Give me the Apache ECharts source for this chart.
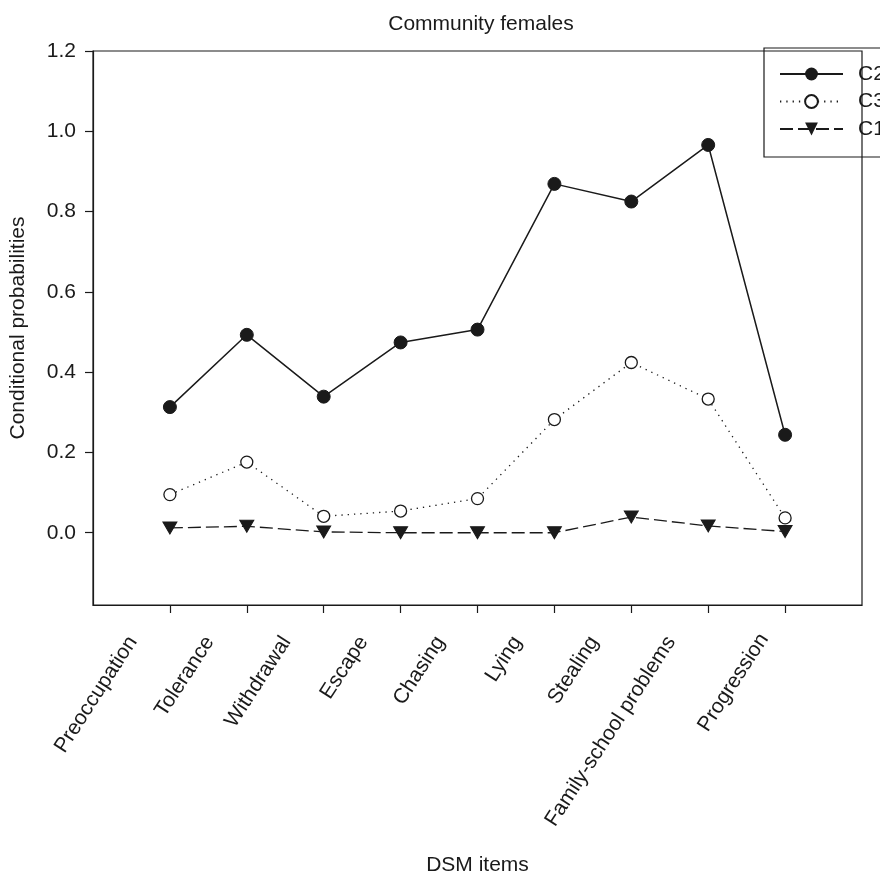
<!DOCTYPE html>
<html>
<head>
<meta charset="utf-8">
<script src="https://cdn.jsdelivr.net/npm/echarts@6/dist/echarts.min.js"></script>
<style>html,body{margin:0;padding:0;background:#fff;}#c{width:880px;height:873px;}</style>
</head>
<body>
<div id="c"></div>
<script>
var categories = ['Preoccupation','Tolerance','Withdrawal','Escape','Chasing','Lying','Stealing','Family-school problems','Progression'];
var c2Values = [0.313, 0.493, 0.339, 0.474, 0.506, 0.869, 0.825, 0.966, 0.244];
var c3Values = [0.095, 0.176, 0.041, 0.054, 0.085, 0.282, 0.424, 0.333, 0.037];
var c1Values = [0.012, 0.016, 0.002, 0.0, 0.0, 0.0, 0.039, 0.017, 0.003];
var yTicks = [0, 0.2, 0.4, 0.6, 0.8, 1.0, 1.2];
// label style key per category (layout only): 'p' = plain, 's' = shifted further left
var labelStyleKey = ['s','s','s','s','s','s','s','s','p'];

function pts(vals){ return vals.map(function(v,i){ return [i+1, v]; }); }
var xPos = categories.map(function(_,i){ return i+1; });
var FONT = 'Liberation Sans, Arial, sans-serif';
var INK = '#1a1a1a';

var chart = echarts.init(document.getElementById('c'), null, {renderer:'canvas'});
chart.setOption({
  animation:false,
  backgroundColor:'#fff',
  title:{
    text:'Community females', left:476, top:9, textAlign:'center',
    textStyle:{fontFamily:FONT, fontSize:21, fontWeight:'normal', color:INK}
  },
  legend:{
    orient:'vertical', left:764, top:48,
    padding:[15.5,40,17.5,15],
    borderColor:INK, borderWidth:1.2,
    itemWidth:63, itemHeight:16, itemGap:6.5,
    textStyle:{fontFamily:FONT, fontSize:21, color:INK, padding:[0,0,0,10]},
    data:['C2','C3','C1']
  },
  grid:{left:93, right:18, top:51, bottom:268, show:true, borderColor:INK, borderWidth:1.2,
        backgroundColor:'transparent', outerBoundsMode:'none', containLabel:false},
  xAxis:{
    type:'value', min:0, max:10, interval:1,
    name:'DSM items', nameLocation:'middle', nameGap:250,
    nameTextStyle:{fontFamily:FONT, fontSize:21, color:INK},
    axisLine:{show:true, onZero:false, lineStyle:{color:INK, width:1.2}},
    axisTick:{show:true, length:8, customValues:xPos, lineStyle:{color:INK, width:1.2}},
    splitLine:{show:false},
    axisLabel:{
      customValues:xPos, rotate:57, margin:8,
      fontFamily:FONT, fontSize:21, color:INK,
      padding:[0,30.5,10.8,0],
      formatter:function(v){
        var i = Math.round(v)-1;
        if (i < 0 || i >= categories.length) return '';
        return '{' + labelStyleKey[i] + '|' + categories[i] + '}';
      },
      rich:{
        p:{fontFamily:FONT, fontSize:21, color:INK},
        s:{fontFamily:FONT, fontSize:21, color:INK, padding:[0,11,24,0]}
      }
    }
  },
  yAxis:{
    type:'value', min:-0.18, max:1.2,
    name:'Conditional probabilities', nameLocation:'middle', nameGap:64,
    nameTextStyle:{fontFamily:FONT, fontSize:21, color:INK},
    axisLine:{show:true, onZero:false, lineStyle:{color:INK, width:1.2}},
    axisTick:{show:true, length:8, customValues:yTicks, lineStyle:{color:INK, width:1.2}},
    splitLine:{show:false},
    axisLabel:{
      customValues:yTicks, margin:17,
      fontFamily:FONT, fontSize:21, color:INK,
      formatter:function(v){ return v.toFixed(1); }
    }
  },
  series:[
    {name:'C2', type:'line', data:pts(c2Values), symbol:'circle', symbolSize:13,
     itemStyle:{color:INK, borderColor:INK}, lineStyle:{color:INK, width:1.5, type:'solid'}, z:3},
    {name:'C3', type:'line', data:pts(c3Values), symbol:'circle', symbolSize:12,
     itemStyle:{color:'#fff', borderColor:INK, borderWidth:1.3}, lineStyle:{color:INK, width:1.3, type:[1.3,5]}, z:2},
    {name:'C1', type:'line', data:pts(c1Values), symbol:'triangle', symbolSize:[14,12], symbolRotate:180,
     itemStyle:{color:INK, borderColor:INK}, lineStyle:{color:INK, width:1.3, type:[13,5]}, z:2}
  ]
});
</script>
</body>
</html>
